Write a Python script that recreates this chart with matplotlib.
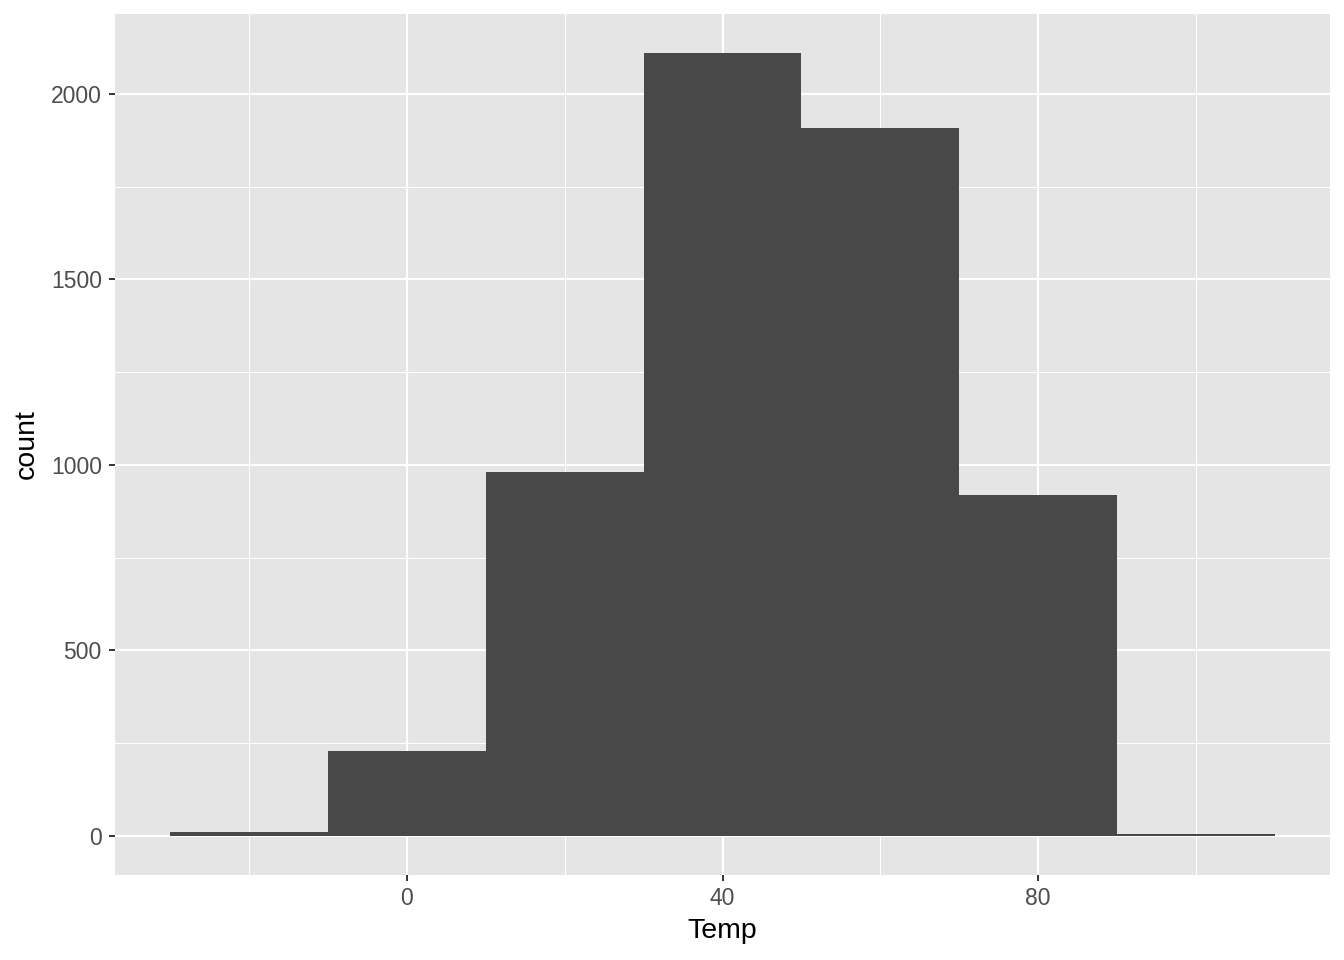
import numpy as np
import matplotlib.pyplot as plt

plt.rcParams['font.family'] = ['Liberation Sans', 'DejaVu Sans']

# bin edges (width 20) and counts
bin_left = [-30, -10, 10, 30, 50, 70, 90]
counts = [11, 229, 981, 2110, 1908, 919, 4]
bin_width = 20

x_ticks = [0, 40, 80]
y_ticks = [0, 500, 1000, 1500, 2000]

fig = plt.figure(figsize=(13.44, 9.6), dpi=100)
ax = fig.add_axes([115 / 1344, 1 - 875 / 960, (1330 - 115) / 1344, (875 - 14) / 960])
ax.set_facecolor('#e5e5e5')

ax.bar(bin_left, counts, width=bin_width, align='edge', color='#484848', zorder=3)

xmin, xmax = -30, 110
xpad = 0.05 * (xmax - xmin)
ax.set_xlim(xmin - xpad, xmax + xpad)
ypad = 0.05 * max(counts)
ax.set_ylim(-ypad, max(counts) + ypad)

ax.set_xticks(x_ticks)
ax.set_yticks(y_ticks)
ax.set_xticks([-20, 20, 60, 100], minor=True)
ax.set_yticks([250, 750, 1250, 1750], minor=True)
ax.grid(which='major', color='white', linewidth=1.5, zorder=0)
ax.grid(which='minor', color='white', linewidth=0.75, zorder=0)
ax.set_axisbelow(True)

for s in ax.spines.values():
    s.set_visible(False)

ax.tick_params(which='major', length=4.5, width=1.4, color='#333333',
               labelsize=16.5, labelcolor='#4d4d4d')
ax.tick_params(axis='x', which='major', pad=4)
ax.tick_params(axis='y', which='major', pad=5)
ax.tick_params(which='minor', length=0)

ax.set_xlabel('Temp', fontsize=20.5, labelpad=6)
ax.set_ylabel('count', fontsize=20.5, labelpad=8)

fig.savefig('out.png', dpi=100)
